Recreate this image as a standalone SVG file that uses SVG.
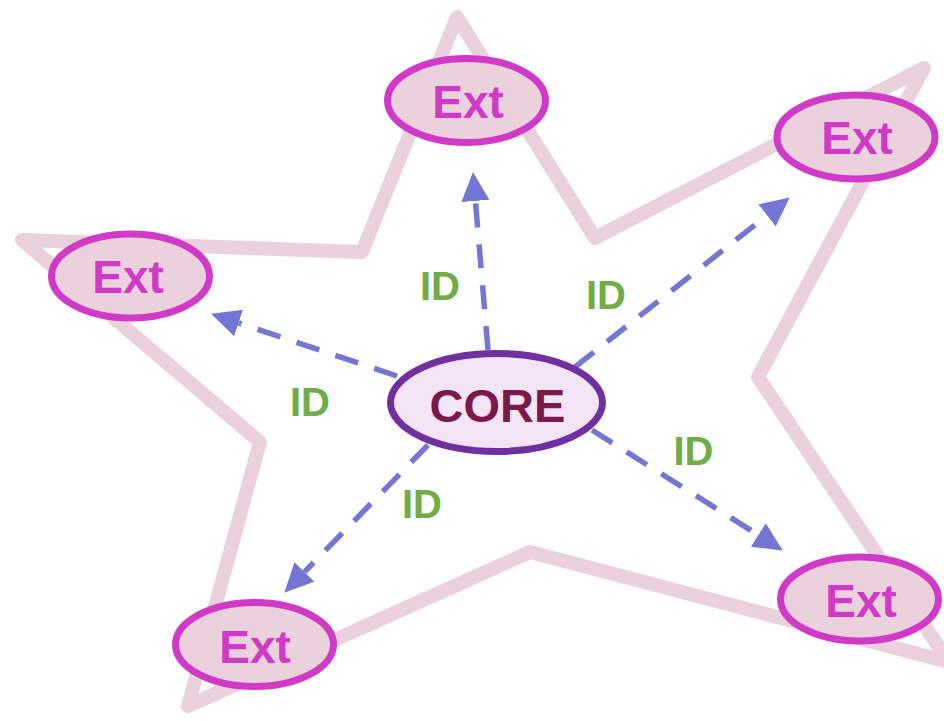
<svg xmlns="http://www.w3.org/2000/svg" width="944" height="721" viewBox="0 0 944 721">
  <defs>
    <style>
      .star { fill: none; stroke: #ead1dc; stroke-width: 14; stroke-linejoin: round; }
      .ext ellipse { fill: #ead1dc; stroke: #d13ac6; stroke-width: 7; }
      .ext text { fill: #d13ac6; font-family: "Liberation Sans", Arial, sans-serif; font-weight: bold; font-size: 46px; text-anchor: middle; }
      .core ellipse { fill: #f3e5f5; stroke: #7030a0; stroke-width: 7; }
      .core text { fill: #7b1a4a; font-family: "Liberation Sans", Arial, sans-serif; font-weight: bold; font-size: 47px; text-anchor: middle; }
      .conn { stroke: #7376d3; stroke-width: 5.5; stroke-dasharray: 24 17; fill: none; marker-end: url(#arrow); }
      .lbl { fill: #70ad47; font-family: "Liberation Sans", Arial, sans-serif; font-weight: bold; font-size: 40px; text-anchor: middle; }
    </style>
    <marker id="arrow" markerUnits="userSpaceOnUse" markerWidth="30" markerHeight="30" refX="0" refY="14" orient="auto">
      <path d="M0,0 L29,14 L0,28 z" fill="#7376d3"/>
    </marker>
  </defs>
  <rect width="944" height="721" fill="#ffffff"/>

  <polygon id="star-outline" class="star" points="457,17 595,238 924,68 758,377 949,662 530,552 188,706 260,442 22,240 362,252"/>

  <g id="connectors">
    <line class="conn" x1="488" y1="350" x2="475.4" y2="200.9"/>
    <line class="conn" x1="575" y1="367" x2="767" y2="215.4"/>
    <line class="conn" x1="397" y1="376" x2="238.6" y2="322.9"/>
    <line class="conn" x1="428" y1="445" x2="304.5" y2="571.9"/>
    <line class="conn" x1="592" y1="430" x2="758.3" y2="535"/>
    <text class="lbl" x="440" y="300">ID</text>
    <text class="lbl" x="606" y="309">ID</text>
    <text class="lbl" x="310" y="416">ID</text>
    <text class="lbl" x="693.5" y="465">ID</text>
    <text class="lbl" x="422" y="518">ID</text>
  </g>

  <g id="core" class="core">
    <ellipse cx="496.5" cy="402.5" rx="106" ry="49"/>
    <text x="497.5" y="422">CORE</text>
  </g>

  <g id="ext-top" class="ext">
    <ellipse cx="466.5" cy="100.5" rx="79" ry="42"/>
    <text x="468" y="118">Ext</text>
  </g>
  <g id="ext-right" class="ext">
    <ellipse cx="856" cy="137" rx="79" ry="42"/>
    <text x="857" y="154">Ext</text>
  </g>
  <g id="ext-left" class="ext">
    <ellipse cx="130.5" cy="276" rx="79" ry="42"/>
    <text x="128" y="293">Ext</text>
  </g>
  <g id="ext-bottom-left" class="ext">
    <ellipse cx="254.5" cy="644.5" rx="79" ry="42"/>
    <text x="255" y="663">Ext</text>
  </g>
  <g id="ext-bottom-right" class="ext">
    <ellipse cx="859.5" cy="599" rx="79" ry="42"/>
    <text x="861" y="617">Ext</text>
  </g>
</svg>
